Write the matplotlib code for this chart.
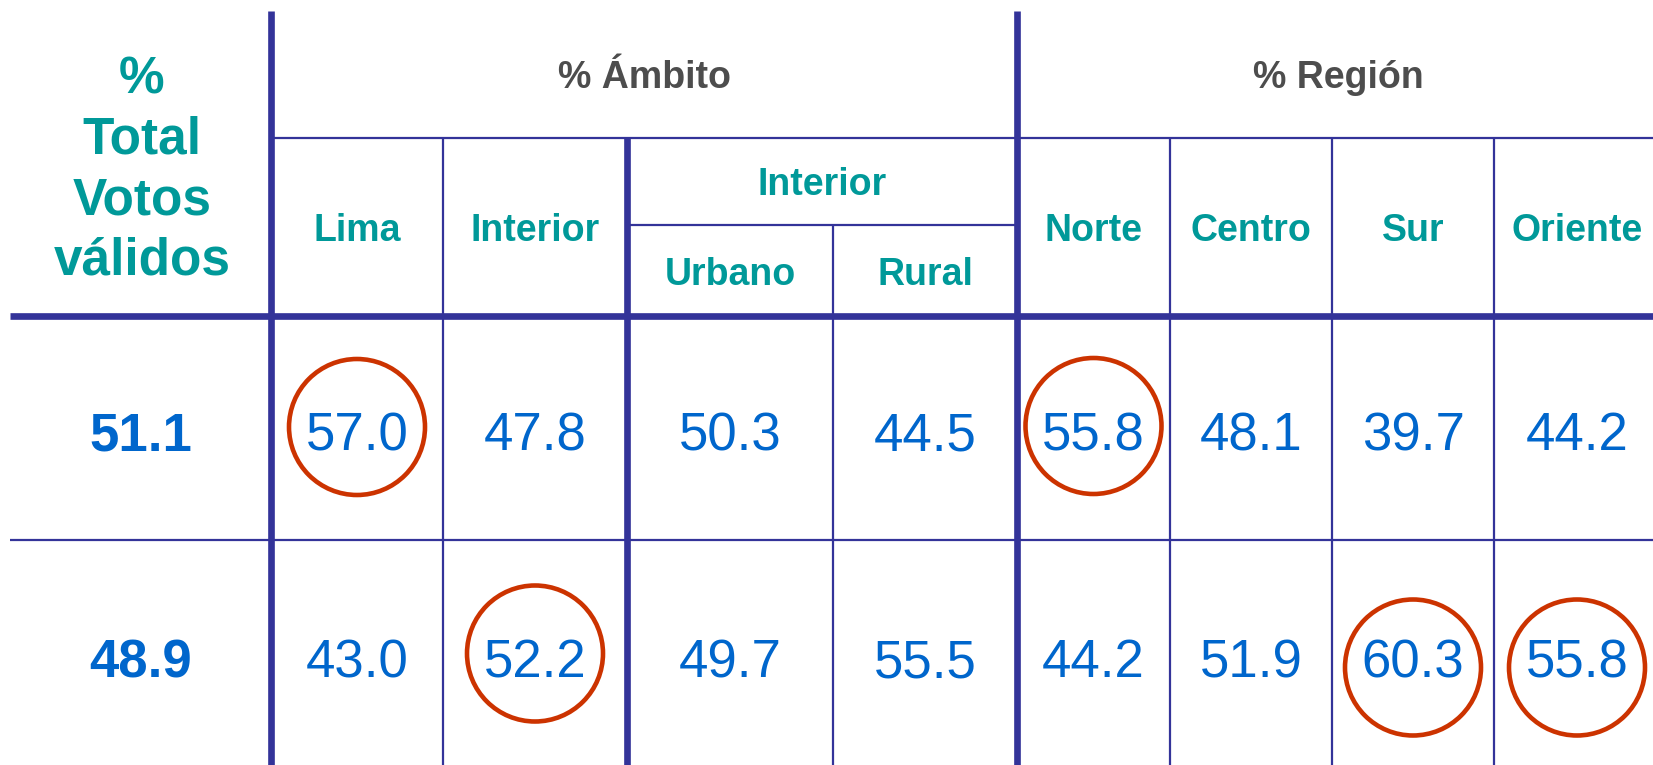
import matplotlib
matplotlib.use("Agg")
import matplotlib.pyplot as plt
from matplotlib.patches import Circle

plt.rcParams['font.family'] = ['Liberation Sans', 'DejaVu Sans']

# ---------------- data ----------------
total_label_lines = ["%", "Total", "Votos", "válidos"]
group_labels = ["% Ámbito", "% Región"]
columns = ["Lima", "Interior", "Urbano", "Rural", "Norte", "Centro", "Sur", "Oriente"]
interior_sub_label = "Interior"
totals = [51.1, 48.9]
row1 = [57.0, 47.8, 50.3, 44.5, 55.8, 48.1, 39.7, 44.2]
row2 = [43.0, 52.2, 49.7, 55.5, 44.2, 51.9, 60.3, 55.8]
# highlighted (circled) cells: (row index, column index)
highlights = [(0, 0), (0, 4), (1, 1), (1, 6), (1, 7)]
# small hand-drawn vertical displacement of each circle (pixels)
circle_dy = [-1, -2, 1, 15, 15]

# ---------------- layout (pixel units) ----------------
W, H = 1653, 765
col_edges = [10, 271, 443, 627, 833, 1017, 1170, 1332, 1494, 1660]
y_top, y_sub, y_sub2, y_head, y_mid, y_bot = 11, 138, 225, 316, 540, 770

LINE = "#333399"
TEAL = "#009999"
GREY = "#4D4D4D"
BLUE = "#0066CC"
RED = "#CC3300"

fig = plt.figure(figsize=(W / 100, H / 100), dpi=100)
ax = fig.add_axes([0, 0, 1, 1])
ax.set_xlim(0, W)
ax.set_ylim(H, 0)
ax.axis("off")

thick, thin = 4.8, 1.6
# vertical lines
ax.plot([col_edges[1]] * 2, [y_top, y_bot], color=LINE, lw=thick, solid_capstyle="butt")
ax.plot([col_edges[5]] * 2, [y_top, y_bot], color=LINE, lw=thick, solid_capstyle="butt")
ax.plot([col_edges[3]] * 2, [y_sub, y_bot], color=LINE, lw=thick, solid_capstyle="butt")
for i in (2, 6, 7, 8):
    ax.plot([col_edges[i]] * 2, [y_sub, y_bot], color=LINE, lw=thin, solid_capstyle="butt")
ax.plot([col_edges[4]] * 2, [y_sub2, y_bot], color=LINE, lw=thin, solid_capstyle="butt")
# horizontal lines
ax.plot([col_edges[1], W], [y_sub] * 2, color=LINE, lw=thin, solid_capstyle="butt")
ax.plot([col_edges[3], col_edges[5]], [y_sub2] * 2, color=LINE, lw=thin, solid_capstyle="butt")
ax.plot([col_edges[0], W], [y_head] * 2, color=LINE, lw=thick, solid_capstyle="butt")
ax.plot([col_edges[0], W], [y_mid] * 2, color=LINE, lw=thin, solid_capstyle="butt")

centers = [(col_edges[i] + col_edges[i + 1]) / 2 for i in range(len(col_edges) - 1)]

# header texts (positioned by baseline)
for k, line in enumerate(total_label_lines):
    ax.text(142, 93 + 60.5 * k, line, ha="center", va="baseline", fontsize=37,
            fontweight="bold", color=TEAL)
ax.text(644, 88, group_labels[0], ha="center", va="baseline",
        fontsize=27, fontweight="bold", color=GREY)
ax.text(1338, 88, group_labels[1], ha="center", va="baseline",
        fontsize=27, fontweight="bold", color=GREY)
ax.text(822, 195, interior_sub_label, ha="center", va="baseline",
        fontsize=27, fontweight="bold", color=TEAL)
for j, name in enumerate(columns):
    x = centers[j + 1]
    y = 285 if j in (2, 3) else 241
    ax.text(x, y, name, ha="center", va="baseline", fontsize=27, fontweight="bold", color=TEAL)

# data rows
row_base = [450, 677]
row_mid = [(y_head + y_mid) / 2, (y_mid + H) / 2]
for r, (tot, vals) in enumerate(zip(totals, [row1, row2])):
    ax.text(centers[0], row_base[r], f"{tot:.1f}", ha="center", va="baseline",
            fontsize=38, fontweight="bold", color=BLUE)
    for j, v in enumerate(vals):
        ax.text(centers[j + 1], row_base[r], f"{v:.1f}", ha="center", va="baseline",
                fontsize=38, color=BLUE)

for (r, j), dy in zip(highlights, circle_dy):
    ax.add_patch(Circle((centers[j + 1], row_mid[r] + dy), 68, fill=False,
                        edgecolor=RED, lw=3.3))

fig.savefig("out.png", dpi=100, facecolor="white")
